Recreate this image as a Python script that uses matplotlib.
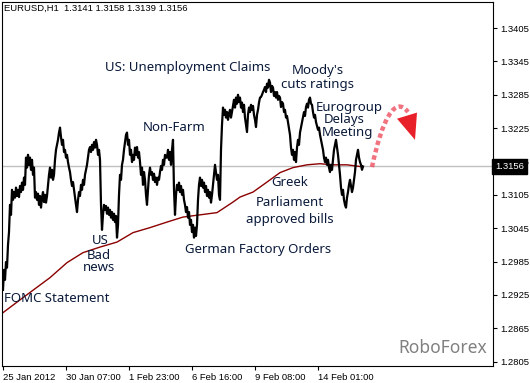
import matplotlib.pyplot as plt
import matplotlib.transforms as mtransforms
from matplotlib.path import Path
from matplotlib.patches import PathPatch, Polygon
import numpy as np

# hourly closes EURUSD H1, one per bar
closes = [
    1.2934, 1.2970, 1.2952, 1.2984, 1.2974, 1.3015, 1.3038, 1.3087, 1.3069, 1.3114,
    1.3096, 1.3110, 1.3100, 1.3118, 1.3103, 1.3114, 1.3101, 1.3121, 1.3110, 1.3127,
    1.3114, 1.3136, 1.3123, 1.3172, 1.3154, 1.3177, 1.3159, 1.3172, 1.3150, 1.3168,
    1.3141, 1.3154, 1.3100, 1.3110, 1.3096, 1.3107, 1.3087, 1.3103, 1.3082, 1.3100,
    1.3110, 1.3092, 1.3105, 1.3091, 1.3103, 1.3123, 1.3141, 1.3154, 1.3136, 1.3150,
    1.3132, 1.3141, 1.3168, 1.3186, 1.3195, 1.3204, 1.3217, 1.3226, 1.3209, 1.3195,
    1.3204, 1.3182, 1.3186, 1.3172, 1.3177, 1.3164, 1.3154, 1.3146, 1.3132, 1.3121,
    1.3128, 1.3114, 1.3100, 1.3087, 1.3074, 1.3096, 1.3110, 1.3103, 1.3123, 1.3114,
    1.3132, 1.3123, 1.3141, 1.3150, 1.3159, 1.3172, 1.3186, 1.3191, 1.3182, 1.3195,
    1.3186, 1.3200, 1.3190, 1.3204, 1.3195, 1.3177, 1.3186, 1.3168, 1.3087, 1.3042,
    1.3069, 1.3087, 1.3078, 1.3085, 1.3071, 1.3082, 1.3069, 1.3078, 1.3064, 1.3074,
    1.3060, 1.3071, 1.3056, 1.3067, 1.3028, 1.3051, 1.3105, 1.3141, 1.3132, 1.3159,
    1.3168, 1.3186, 1.3200, 1.3213, 1.3217, 1.3195, 1.3204, 1.3177, 1.3186, 1.3164,
    1.3177, 1.3168, 1.3190, 1.3177, 1.3191, 1.3172, 1.3182, 1.3164, 1.3141, 1.3154,
    1.3123, 1.3146, 1.3132, 1.3105, 1.3087, 1.3114, 1.3141, 1.3154, 1.3141, 1.3146,
    1.3132, 1.3143, 1.3128, 1.3136, 1.3123, 1.3136, 1.3132, 1.3146, 1.3157, 1.3150,
    1.3168, 1.3159, 1.3177, 1.3172, 1.3172, 1.3186, 1.3168, 1.3182, 1.3159, 1.3186,
    1.3204, 1.3114, 1.3069, 1.3105, 1.3123, 1.3114, 1.3127, 1.3110, 1.3121, 1.3105,
    1.3114, 1.3096, 1.3087, 1.3074, 1.3083, 1.3064, 1.3074, 1.3051, 1.3060, 1.3038,
    1.3051, 1.3028, 1.3046, 1.3031, 1.3051, 1.3096, 1.3123, 1.3136, 1.3121, 1.3132,
    1.3118, 1.3127, 1.3110, 1.3121, 1.3103, 1.3114, 1.3100, 1.3110, 1.3091, 1.3105,
    1.3123, 1.3141, 1.3159, 1.3146, 1.3132, 1.3141, 1.3105, 1.3096, 1.3186, 1.3231,
    1.3262, 1.3249, 1.3258, 1.3244, 1.3254, 1.3240, 1.3251, 1.3258, 1.3244, 1.3254,
    1.3265, 1.3276, 1.3262, 1.3280, 1.3269, 1.3285, 1.3272, 1.3280, 1.3262, 1.3271,
    1.3254, 1.3267, 1.3244, 1.3231, 1.3218, 1.3249, 1.3262, 1.3254, 1.3267, 1.3258,
    1.3265, 1.3249, 1.3240, 1.3227, 1.3249, 1.3258, 1.3271, 1.3280, 1.3281, 1.3285,
    1.3290, 1.3294, 1.3299, 1.3290, 1.3305, 1.3298, 1.3312, 1.3307, 1.3290, 1.3301,
    1.3298, 1.3283, 1.3290, 1.3280, 1.3290, 1.3276, 1.3283, 1.3280, 1.3263, 1.3272,
    1.3269, 1.3254, 1.3258, 1.3244, 1.3247, 1.3236, 1.3226, 1.3213, 1.3190, 1.3177,
    1.3186, 1.3168, 1.3182, 1.3164, 1.3190, 1.3204, 1.3195, 1.3217, 1.3226, 1.3236,
    1.3244, 1.3254, 1.3247, 1.3263, 1.3269, 1.3262, 1.3276, 1.3280, 1.3269, 1.3267,
    1.3254, 1.3244, 1.3249, 1.3236, 1.3229, 1.3222, 1.3226, 1.3213, 1.3204, 1.3195,
    1.3186, 1.3172, 1.3164, 1.3172, 1.3159, 1.3168, 1.3154, 1.3146, 1.3159, 1.3150,
    1.3168, 1.3186, 1.3195, 1.3204, 1.3190, 1.3177, 1.3159, 1.3141, 1.3118, 1.3105,
    1.3114, 1.3096, 1.3087, 1.3082, 1.3100, 1.3110, 1.3123, 1.3132, 1.3121, 1.3110,
    1.3118, 1.3132, 1.3146, 1.3168, 1.3177, 1.3186, 1.3172, 1.3164, 1.3159, 1.3150,
    1.3156,
]

# moving average (dark red), read at a few bars
ma_bars = [0, 17, 47, 64, 80, 97, 114, 130, 147, 164, 180, 197, 214, 230, 237,
           250, 264, 277, 290, 304, 317, 330, 344, 357]
ma_values = [1.2893, 1.2916, 1.2956, 1.2983, 1.3001, 1.3011, 1.3020, 1.3037, 1.3046,
             1.3056, 1.3065, 1.3069, 1.3073, 1.3092, 1.3101, 1.3110, 1.3128, 1.3145,
             1.3154, 1.3159, 1.3161, 1.3159, 1.3159, 1.3156]

last_price = 1.3156
title = 'EURUSD,H1  1.3141 1.3158 1.3139 1.3156'

tick_bars = [0, 63, 126, 189, 252, 315]
tick_labels = ['25 Jan 2012', '30 Jan 07:00', '1 Feb 23:00', '6 Feb 16:00',
               '9 Feb 08:00', '14 Feb 01:00']
price_ticks = [1.2805, 1.2865, 1.2925, 1.2985, 1.3045, 1.3105, 1.3165, 1.3225,
               1.3285, 1.3345, 1.3405]

# event notes: text, bar, price (centre)
event_texts = ['US: Unemployment Claims', "Moody's", 'cuts ratings', 'Eurogroup',
               'Delays', 'Meeting', 'Non-Farm', 'Greek', 'Parliament',
               'approved bills', 'German Factory Orders', 'US', 'Bad', 'news']
event_bars = [185, 315, 315, 346, 341, 345, 171, 287, 287, 287, 255, 97, 96, 96]
event_prices = [1.3335, 1.3328, 1.3303, 1.3263, 1.3240, 1.3218, 1.3227, 1.3127,
                1.3092, 1.3060, 1.3006, 1.3022, 1.2995, 1.2974]

# forecast arrow (dotted curve + head)
arrow_bars = [369, 379, 392, 405]
arrow_prices = [1.3155, 1.3240, 1.3285, 1.3254]
head_bars = [394, 414, 412]
head_prices = [1.3242, 1.3253, 1.3204]

fig = plt.figure(figsize=(5.3, 3.83), dpi=100)
ax = fig.add_axes([2 / 530, 17 / 383, 491 / 530, 364 / 383])

ax.axhline(last_price, color='#c0c0c0', lw=1, zorder=1)
ax.plot(ma_bars, ma_values, color='#8b0000', lw=1, zorder=2)
ax.plot(np.arange(len(closes)), closes, color='black', lw=1.6, zorder=3)

ax.set_xlim(-1, 490)
ax.set_ylim(1.2797, 1.3452)

ax.yaxis.tick_right()
ax.set_yticks(price_ticks)
ax.set_yticklabels(['%.4f' % p for p in price_ticks])
ax.set_xticks(tick_bars)
ax.set_xticklabels(tick_labels, ha='left')
ax.tick_params(axis='both', direction='out', length=3, width=0.8, pad=2,
               labelsize=6.8, labelfontfamily='Liberation Sans')
for s in ax.spines.values():
    s.set_linewidth(0.8)

# current price box
trans = mtransforms.blended_transform_factory(ax.transAxes, ax.transData)
ax.text(1.004, last_price, '%.4f' % last_price, transform=trans, color='white',
        fontsize=6.8, family='Liberation Sans', va='center', ha='left',
        bbox=dict(boxstyle='square,pad=0.3', fc='black', ec='black'), zorder=10,
        clip_on=False)

ax.text(2 / 491, 0.984, title, transform=ax.transAxes, fontsize=6.8,
        family='Liberation Sans', va='center', ha='left')

for t, b, p in zip(event_texts, event_bars, event_prices):
    ax.text(b, p, t, ha='center', va='center', fontsize=9.5, family='Noto Sans',
            color='#0a1a3a', zorder=5)
ax.text(1, 1.2918, 'FOMC Statement', ha='left', va='center', fontsize=9.5,
        family='Noto Sans', color='#0a1a3a', zorder=5)

ax.text(484, 1.2830, 'RoboForex', ha='right', va='center', fontsize=12.5,
        family='Noto Sans', color='#808080')

# dotted arrow
verts = list(zip(arrow_bars, arrow_prices))
path = Path(verts, [Path.MOVETO, Path.CURVE4, Path.CURVE4, Path.CURVE4])
ax.add_patch(PathPatch(path, fc='none', ec='#ee4455', lw=3.2, alpha=0.75,
                       linestyle=(0, (1, 0.7)), capstyle='butt', zorder=6))
ax.add_patch(Polygon(list(zip(head_bars, head_prices)), closed=True,
                     fc='#e8202a', ec='none', zorder=6))

plt.savefig('out.png', dpi=100)
